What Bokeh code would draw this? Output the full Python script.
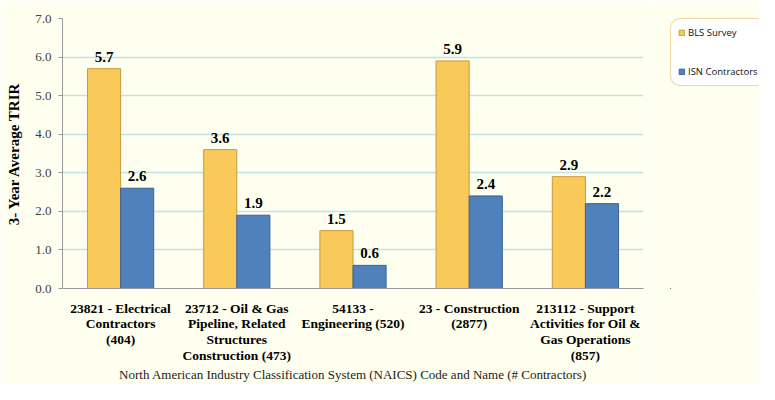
from bokeh.plotting import figure
from bokeh.layouts import row
from bokeh.models import ColumnDataSource, Legend, LegendItem, NumeralTickFormatter, SingleIntervalTicker, Range1d
from bokeh.transform import dodge
from bokeh.core.properties import value
from bokeh.embed import file_html
from bokeh.resources import INLINE

categories = [
    "23821 - Electrical\nContractors\n(404)",
    "23712 - Oil & Gas\nPipeline, Related\nStructures\nConstruction (473)",
    "54133 -\nEngineering (520)",
    "23 - Construction\n(2877)",
    "213112 - Support\nActivities for Oil &\nGas Operations\n(857)",
]
bls = [5.7, 3.6, 1.5, 5.9, 2.9]
isn = [2.6, 1.9, 0.6, 2.4, 2.2]
series_names = ["BLS Survey", "ISN Contractors"]

src = ColumnDataSource(dict(
    cat=categories, bls=bls, isn=isn,
    bls_t=[f"{v:.1f}" for v in bls], isn_t=[f"{v:.1f}" for v in isn],
))

BG = "#FFFFF0"
YELLOW, YELLOW_LINE = "#F9C95A", "#C99A3A"
BLUE, BLUE_LINE = "#4F81BD", "#3A629A"

p = figure(x_range=categories, y_range=(0, 7), width=650, height=384,
           output_backend="svg", toolbar_location=None,
           min_border_left=62, min_border_right=7, min_border_top=18, min_border_bottom=84)
p.background_fill_color = BG
p.border_fill_color = BG
p.outline_line_color = None

bw = 0.285
p.vbar(x=dodge("cat", -bw / 2, range=p.x_range), top="bls", width=bw, source=src,
       fill_color=YELLOW, line_color=YELLOW_LINE, line_width=1)
p.vbar(x=dodge("cat", bw / 2, range=p.x_range), top="isn", width=bw, source=src,
       fill_color=BLUE, line_color=BLUE_LINE, line_width=1)

font = value("Liberation Serif")
p.text(x=dodge("cat", -bw / 2, range=p.x_range), y="bls", text="bls_t", source=src,
       text_font=font, text_font_style="bold", text_font_size="15px",
       text_align="center", text_baseline="bottom", y_offset=-7, text_color="#000000")
p.text(x=dodge("cat", bw / 2, range=p.x_range), y="isn", text="isn_t", source=src,
       text_font=font, text_font_style="bold", text_font_size="15px",
       text_align="center", text_baseline="bottom", y_offset=-7, text_color="#000000")

# grid
p.xgrid.grid_line_color = None
p.ygrid.grid_line_color = "#BFE4E8"
p.ygrid.grid_line_width = 1.5

# y axis
p.yaxis.ticker = SingleIntervalTicker(interval=1)
p.yaxis.formatter = NumeralTickFormatter(format="0.0")
p.yaxis.minor_tick_line_color = None
p.yaxis.major_tick_in = 0
p.yaxis.major_tick_out = 4
p.yaxis.axis_line_color = "#999999"
p.yaxis.major_tick_line_color = "#999999"
p.yaxis.major_label_text_font = "Liberation Serif"
p.yaxis.major_label_text_font_size = "13px"
p.yaxis.major_label_text_color = "#404040"
p.yaxis.major_label_standoff = 7
p.yaxis.axis_label = "3- Year Average TRIR"
p.yaxis.axis_label_text_font = "Liberation Serif"
p.yaxis.axis_label_text_font_style = "bold"
p.yaxis.axis_label_text_font_size = "15px"
p.yaxis.axis_label_text_color = "#000000"
p.yaxis.axis_label_standoff = 10

# x axis
p.xaxis.axis_line_color = "#999999"
p.xaxis.major_tick_line_color = None
p.xaxis.minor_tick_line_color = None
p.xaxis.major_label_text_font = "Liberation Serif"
p.xaxis.major_label_text_font_style = "bold"
p.xaxis.major_label_text_font_size = "13.5px"
p.xaxis.major_label_text_line_height = 1.05
p.xaxis.major_label_text_color = "#000000"
p.xaxis.major_label_standoff = 6
p.xaxis.axis_label = "North American Industry Classification System (NAICS) Code and Name (# Contractors)"
p.xaxis.axis_label_text_font = "Liberation Serif"
p.xaxis.axis_label_text_font_style = "normal"
p.xaxis.axis_label_text_font_size = "13px"
p.xaxis.axis_label_text_color = "#222222"
p.xaxis.axis_label_standoff = 1

# legend panel (its sample glyphs use the same data, placed outside the visible range)
q = figure(width=109, height=384, x_range=Range1d(100, 101), y_range=Range1d(100, 101),
           output_backend="svg", toolbar_location=None, title=None,
           min_border_left=20, min_border_right=0, min_border_top=2, min_border_bottom=0)
q.axis.visible = False
q.grid.visible = False
q.background_fill_color = BG
q.border_fill_color = BG
q.outline_line_color = None
lr1 = q.vbar(x="bls", top="bls", width=0.1, source=src, fill_color=YELLOW, line_color=YELLOW_LINE)
lr2 = q.vbar(x="isn", top="isn", width=0.1, source=src, fill_color=BLUE, line_color=BLUE_LINE)

legend = Legend(items=[LegendItem(label=series_names[0], renderers=[lr1]),
                       LegendItem(label=series_names[1], renderers=[lr2])],
                location="top_left")
legend.label_text_font = "Open Sans"
legend.label_text_font_size = "9.5px"
legend.label_text_color = "#111111"
legend.glyph_width = 7
legend.glyph_height = 7
legend.label_standoff = 3
legend.spacing = 26
legend.padding = 7
legend.margin = 0
legend.border_line_color = "#E4B24A"
legend.border_line_width = 1.5
legend.background_fill_color = "#FFFFFF"
legend.background_fill_alpha = 1
if "border_radius" in legend.properties():
    legend.border_radius = 10
q.add_layout(legend, "center")

layout = row(p, q, spacing=0)
open("out.html", "w").write(file_html(layout, INLINE))
